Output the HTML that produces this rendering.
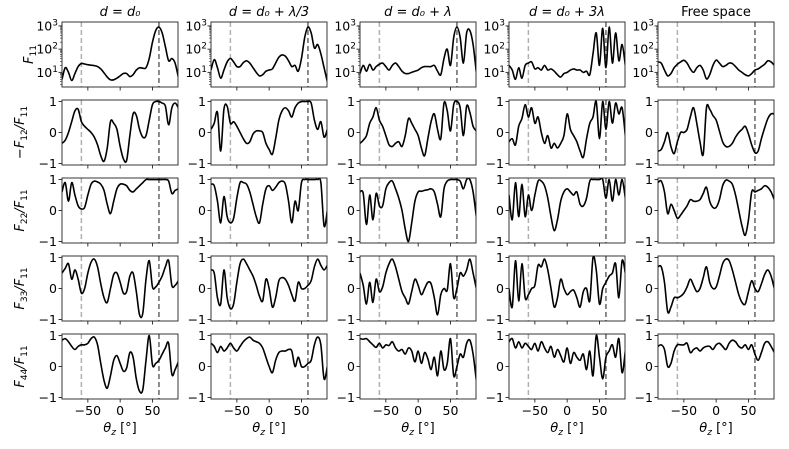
<!DOCTYPE html>
<html><head><meta charset="utf-8"><style>
body{margin:0;background:#fff;width:789px;height:444px;overflow:hidden}
svg{font-family:"DejaVu Sans","Liberation Sans",sans-serif}
</style></head><body>
<svg id="fig" width="789" height="444" viewBox="0 0 789 444" xmlns="http://www.w3.org/2000/svg"></svg>
<script>
const colTitles = ["d = d₀","d = d₀ + λ/3","d = d₀ + λ","d = d₀ + 3λ","Free space"];
const xTicks = [-50, 0, 50];
const logTicks = [1, 2, 3];
const linTicks = [1, 0, -1];
const dashLight = -60, dashDark = 60;
// each series sampled every 5 deg from -90 to 90; row 0 is log10(F11)
const c1r1=[0.7,1.2,1.0,0.65,0.95,1.25,1.38,1.36,1.33,1.31,1.29,1.25,1.15,0.98,0.8,0.68,0.68,0.75,0.85,0.95,0.95,0.82,0.9,1.1,1.2,1.18,1.2,1.6,2.3,2.8,2.95,2.7,2.1,1.5,1.6,1.4,0.8];
const c1r2=[-0.35,-0.25,0.0,0.35,0.7,0.75,0.35,0.2,0.1,0.0,-0.15,-0.4,-0.75,-0.93,-0.5,0.35,0.3,0.1,-0.45,-0.85,-0.9,-0.1,0.6,0.55,0.1,-0.15,-0.1,0.4,0.9,1.0,1.0,0.95,0.85,0.25,0.8,0.95,0.8];
const c1r3=[0.6,0.9,0.3,0.9,0.5,0.15,0.05,0.1,0.5,0.85,0.95,0.92,0.85,0.65,0.2,-0.1,0.3,0.7,0.85,0.85,0.8,0.65,0.6,0.7,0.8,0.9,1,1,1,1,1,1,1,0.95,0.55,0.65,0.7];
const c1r4=[0.5,0.65,0.8,0.3,0.6,0.3,-0.15,0.0,0.5,0.85,0.95,0.7,0.15,-0.3,-0.45,0.0,0.45,0.5,0.2,-0.15,-0.1,0.4,0.5,-0.1,-0.85,-0.8,0.3,0.9,0.05,0.05,0.2,0.4,0.7,0.9,0.1,0.1,0.25];
const c1r5=[0.85,0.9,0.8,0.65,0.55,0.65,0.7,0.7,0.75,0.9,0.95,0.7,0.1,-0.45,-0.7,-0.3,0.2,0.35,0.1,-0.15,-0.05,0.45,0.3,-0.4,-0.8,-0.75,0.2,1.0,0.05,0.1,0.2,0.4,0.6,0.75,-0.25,-0.1,0.15];
const c2r1=[1.1,1.55,1.2,0.75,1.1,1.45,1.6,1.45,1.25,1.25,1.42,1.5,1.4,1.2,1.0,0.85,0.9,1.05,1.1,1.15,1.4,1.65,1.75,1.7,1.5,1.25,1.3,1.05,1.6,2.5,2.95,2.7,2.05,2.2,1.8,1.2,0.6];
const c2r2=[0.1,0.3,0.65,-0.6,0.75,0.85,0.3,0.35,0.2,0.0,-0.2,-0.35,-0.3,-0.05,0.05,0.05,0.0,-0.35,-0.55,-0.7,-0.2,0.4,0.7,0.8,0.7,0.5,0.8,0.95,1,1,1,0.95,0.4,0.1,0.35,-0.15,0.1];
const c2r3=[0.85,0.8,0.3,-0.4,0.45,-0.2,-0.4,-0.25,0.4,0.9,0.9,0.85,0.6,0.2,-0.2,-0.4,0.2,0.7,0.8,0.65,0.75,0.9,0.95,0.85,0.3,-0.4,0.3,0.0,0.9,1,1,1,1,1,0.9,-0.5,0.0];
const c2r4=[0.6,0.5,-0.3,-0.5,0.6,-0.3,-0.65,-0.5,0.2,0.8,0.95,0.8,0.6,0.4,0.1,-0.25,-0.4,0.3,0.0,-0.6,-0.3,0.25,0.35,0.3,0.1,-0.2,-0.4,0.2,0.0,0.0,0.1,0.25,0.7,0.95,0.75,0.6,0.75];
const c2r5=[0.75,0.65,0.45,0.65,0.5,0.6,0.75,0.6,0.5,0.65,0.8,0.9,0.95,0.85,0.8,0.75,0.6,0.3,0.0,-0.2,0.2,0.45,0.5,0.5,0.55,0.5,0.0,0.3,0.0,0.0,0.1,0.2,0.7,0.95,0.7,-0.4,0.0];
const c3r1=[0.95,1.3,1.05,1.35,1.1,1.25,1.35,1.4,1.25,1.1,1.3,1.4,1.25,1.05,0.95,0.95,1.0,1.05,1.1,1.2,1.25,1.25,1.25,1.3,1.05,0.9,1.6,2.0,1.3,2.5,2.95,2.5,1.4,2.7,2.8,2.2,1.0];
const c3r2=[-0.35,-0.25,-0.1,0.3,0.5,0.8,0.4,0.2,-0.1,-0.4,-0.45,-0.35,-0.3,-0.45,-0.1,0.45,0.3,0.1,-0.1,-0.5,-0.75,-0.2,0.35,0.6,0.1,-0.2,0.95,0.7,0.05,0.9,1.0,0.8,-0.1,0.85,0.65,0.2,0.05];
const c3r3=[0.6,0.55,-0.45,0.5,-0.3,0.55,0.15,0.15,0.7,0.9,0.95,0.7,0.4,0.0,-0.6,-1.0,-0.4,0.3,0.6,0.62,0.65,0.67,0.7,0.6,0.2,-0.2,0.7,0.95,1,1,1,0.95,0.7,1,1,0.6,-0.2];
const c3r4=[0.5,0.1,-0.5,0.2,-0.45,0.3,-0.1,0.05,0.5,0.8,0.95,0.7,0.3,-0.1,-0.3,-0.5,-0.1,0.3,0.1,-0.2,0.0,0.2,0.15,-0.3,-0.85,-0.2,0.0,-0.05,0.8,-0.3,0.0,0.5,0.4,0.6,0.95,0.5,0.0];
const c3r5=[0.9,0.88,0.9,0.8,0.7,0.62,0.75,0.6,0.7,0.68,0.8,0.6,0.5,0.55,0.4,0.6,0.5,0.15,0.5,0.1,0.45,0.25,-0.1,0.3,-0.3,0.5,-0.1,0.1,0.9,-0.3,0.0,0.4,0.3,0.75,0.85,0.4,-0.45];
const c4r1=[1.3,1.1,0.7,1.2,0.75,1.3,1.4,1.45,1.15,1.2,1.1,1.3,1.1,1.15,1.05,0.9,0.8,0.95,1.0,1.1,1.15,1.1,1.1,1.0,1.05,0.9,1.8,2.7,1.3,2.9,1.2,2.95,1.4,2.7,1.5,2.2,1.3];
const c4r2=[-0.3,-0.2,-0.4,0.2,0.45,0.9,0.5,0.8,0.3,0.5,0.0,-0.35,-0.1,-0.5,-0.35,-0.5,-0.35,-0.1,0.6,0.1,-0.1,-0.3,-0.6,-0.8,-0.2,0.3,0.5,1.0,-0.2,1.0,0.1,1.0,0.3,0.95,0.6,0.8,-0.1];
const c4r3=[0.5,-0.3,0.9,-0.2,0.85,-0.2,0.5,0.0,0.5,0.95,0.95,0.8,0.4,-0.2,-0.65,-0.3,0.3,0.6,0.7,0.6,0.5,0.6,0.2,0.15,0.4,0.95,1,1,1,1,0.4,1,0.3,1,0.5,1,0.4];
const c4r4=[0.0,-0.6,0.9,-0.4,0.8,-0.3,-0.2,0.0,0.1,0.75,0.7,0.95,0.6,0.0,-0.6,-0.3,0.3,0.0,-0.2,-0.1,-0.05,-0.3,-0.6,-0.1,0.0,-0.4,1.0,0.6,-0.5,0.0,0.2,0.4,0.5,0.8,-0.3,0.9,0.5];
const c4r5=[0.8,0.9,0.6,0.8,0.6,0.75,0.65,0.55,0.75,0.5,0.8,0.6,0.45,0.65,0.3,0.55,0.35,0.15,0.6,0.1,0.45,0.3,0.2,0.4,-0.1,0.5,-0.3,1.0,0.3,-0.4,0.3,0.5,0.7,0.3,0.9,-0.2,0.5];
const c5r1=[1.45,1.4,1.1,0.85,0.95,1.2,1.35,1.45,1.52,1.4,1.15,1.0,1.2,1.3,1.1,0.72,0.9,1.3,1.53,1.4,1.25,1.3,1.4,1.38,1.25,1.1,1.0,0.9,0.85,0.95,1.1,1.15,1.25,1.35,1.5,1.45,1.3];
const c5r2=[-0.6,-0.55,-0.3,0.0,-0.45,-0.68,-0.3,0.0,0.0,0.1,0.5,0.8,0.3,-0.3,-0.7,0.8,0.75,0.55,0.4,0.05,-0.3,-0.45,-0.45,-0.35,-0.15,0.0,0.1,0.2,-0.05,-0.4,-0.65,-0.6,-0.2,0.15,0.45,0.6,0.6];
const c5r3=[0.9,0.95,0.6,-0.1,0.2,0.0,-0.25,-0.15,0.0,0.15,0.35,0.3,0.3,0.35,0.55,0.75,0.3,0.1,0.1,0.35,0.8,0.98,0.95,0.85,0.5,0.0,-0.5,-0.8,-0.3,0.6,0.6,0.65,0.7,0.8,0.75,0.6,0.35];
const c5r4=[0.7,0.7,0.2,-0.75,-0.6,-0.3,-0.3,-0.25,-0.15,0.05,0.3,0.1,-0.1,0.0,0.35,0.7,0.2,0.0,0.05,0.4,0.8,0.95,0.9,0.6,0.2,-0.2,-0.45,-0.5,-0.1,0.25,0.0,-0.1,0.15,0.45,0.6,0.4,0.0];
const c5r5=[0.65,0.7,0.55,0.0,0.1,0.5,0.7,0.7,0.7,0.75,0.45,0.55,0.6,0.5,0.6,0.65,0.65,0.55,0.7,0.75,0.65,0.55,0.75,0.85,0.8,0.65,0.6,0.7,0.55,0.7,0.4,0.2,0.45,0.75,0.8,0.65,0.45];
const series=[[c1r1,c1r2,c1r3,c1r4,c1r5],[c2r1,c2r2,c2r3,c2r4,c2r5],[c3r1,c3r2,c3r3,c3r4,c3r5],[c4r1,c4r2,c4r3,c4r4,c4r5],[c5r1,c5r2,c5r3,c5r4,c5r5]];

const NS="http://www.w3.org/2000/svg";
const svg=document.getElementById('fig');
function mk(tag,attrs,parent){const e=document.createElementNS(NS,tag);for(const k in attrs)e.setAttribute(k,attrs[k]);(parent||svg).appendChild(e);return e;}
const X0=62, DX=149, W=116, Y0=22, DY=78, H=65;
const XMIN=-90, XMAX=89.5;
const LOGMIN=0.37, LOGMAX=3.17, LMIN=-1.05, LMAX=1.05;
function xs(c,v){return X0+c*DX+(v-XMIN)/(XMAX-XMIN)*W;}
function ys(r,v){const t=Y0+r*DY; if(r===0) return t+H-(v-LOGMIN)/(LOGMAX-LOGMIN)*H; return t+H-(v-LMIN)/(LMAX-LMIN)*H;}
function smooth(pts){let d=`M${pts[0][0].toFixed(2)},${pts[0][1].toFixed(2)}`;
 for(let i=0;i<pts.length-1;i++){const p0=pts[Math.max(0,i-1)],p1=pts[i],p2=pts[i+1],p3=pts[Math.min(pts.length-1,i+2)];
  const c1=[p1[0]+(p2[0]-p0[0])/6,p1[1]+(p2[1]-p0[1])/6],c2=[p2[0]-(p3[0]-p1[0])/6,p2[1]-(p3[1]-p1[1])/6];
  d+=`C${c1[0].toFixed(2)},${c1[1].toFixed(2)} ${c2[0].toFixed(2)},${c2[1].toFixed(2)} ${p2[0].toFixed(2)},${p2[1].toFixed(2)}`;}
 return d;}
const defs=mk('defs',{});
const ylabels=[["F","11",""],["−F","12","/F","11"],["F","22","/F","11"],["F","33","/F","11"],["F","44","/F","11"]];

for(let c=0;c<5;c++){
 const t=mk('text',{x:X0+c*DX+W/2,y:16,'text-anchor':'middle','font-size':13,'font-style':c<4?'italic':'normal'});
 t.textContent=colTitles[c];
 
 
 for(let r=0;r<5;r++){
  const px=X0+c*DX, py=Y0+r*DY;
  const g=mk('g',{});
  
  
  const cp=mk('clipPath',{id:`cp${r}${c}`},defs);
  mk('rect',{x:px,y:py,width:W,height:H},cp);
  // dashed lines
  const l1=mk('line',{x1:xs(c,dashLight),x2:xs(c,dashLight),y1:py,y2:py+H,stroke:'#b0b0b0','stroke-width':1.5,'stroke-dasharray':'5,3'},g);
  
  
  const l2=mk('line',{x1:xs(c,dashDark),x2:xs(c,dashDark),y1:py,y2:py+H,stroke:'#666','stroke-width':1.5,'stroke-dasharray':'5,3'},g);
  
  
  const data=series[c][r];
  const pts=data.map((v,i)=>[xs(c,XMIN+i*180/(data.length-1)),ys(r,v)]);
  const p=mk('path',{d:smooth(pts),fill:'none',stroke:'#000','stroke-width':1.6,'clip-path':`url(#cp${r}${c})`,'stroke-linejoin':'round'},g);
  
  
  mk('rect',{x:px,y:py,width:W,height:H,fill:'none',stroke:'#222','stroke-width':0.9},g);
  // x ticks
  xTicks.forEach(v=>{mk('line',{x1:xs(c,v),x2:xs(c,v),y1:py+H,y2:py+H+3.5,stroke:'#222','stroke-width':0.9},g);
   if(r===4){const tl=mk('text',{x:xs(c,v),y:py+H+16,'text-anchor':'middle','font-size':12.5},g);tl.textContent=v<0?'−'+(-v):String(v);
    
    }});
  // y ticks
  if(r===0){
   logTicks.forEach(v=>{const y=ys(0,v);mk('line',{x1:px-3.5,x2:px,y1:y,y2:y,stroke:'#222','stroke-width':0.9},g);
    const tl=mk('text',{x:px-4,y:y+4.5,'text-anchor':'end','font-size':12.5},g);
    const a=mk('tspan',{},tl);a.textContent='10';const b=mk('tspan',{dy:-5,'font-size':9},tl);b.textContent=String(v);
    
    });
   for(let d=0;d<4;d++)for(let m=2;m<10;m++){const v=d+Math.log10(m);if(v>LOGMIN&&v<LOGMAX){const y=ys(0,v);mk('line',{x1:px-2,x2:px,y1:y,y2:y,stroke:'#222','stroke-width':0.6},g);}}
  } else {
   linTicks.forEach(v=>{const y=ys(r,v);mk('line',{x1:px-3.5,x2:px,y1:y,y2:y,stroke:'#222','stroke-width':0.9},g);
    const tl=mk('text',{x:px-5,y:y+4.5,'text-anchor':'end','font-size':12.5},g);tl.textContent=v<0?'−1':String(v);
    
    });
  }
 }
 const xl=mk('text',{x:X0+c*DX+W/2,y:432,'text-anchor':'middle','font-size':13});
 const a=mk('tspan',{'font-style':'italic'},xl);a.textContent='θ';
 const b=mk('tspan',{'font-style':'italic','font-size':9,dy:3},xl);b.textContent='z';
 const d=mk('tspan',{dy:-3},xl);d.textContent=' [°]';
 
 
}
for(let r=0;r<5;r++){
 const cy=Y0+r*DY+H/2;
 const t=mk('text',{x:0,y:0,'text-anchor':'middle','font-size':13,transform:`translate(${r===0?33:24},${cy}) rotate(-90)`});
 const L=ylabels[r];
 for(let i=0;i<L.length;i++){if(!L[i])continue;const s=mk('tspan',{},t);
  if(i%2===1){s.setAttribute('font-size',9);s.setAttribute('dy',3);}else if(i>0){s.setAttribute('dy',-3);}
  if(i%2===0)s.setAttribute('font-style','italic');
  s.textContent=L[i];}
 
 
}
</script>
</body></html>
